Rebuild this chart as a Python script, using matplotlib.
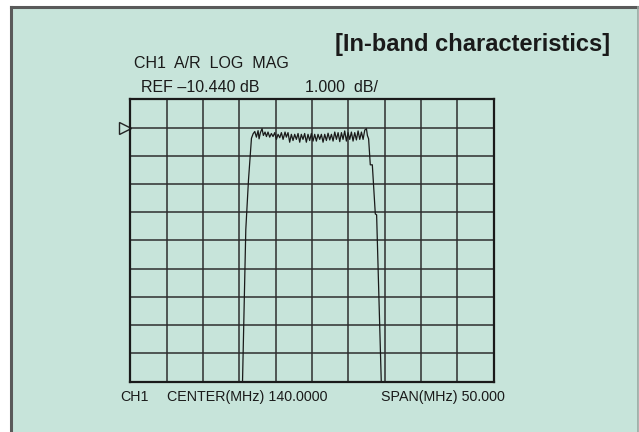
import numpy as np
import matplotlib
matplotlib.use("Agg")
import matplotlib.pyplot as plt
from matplotlib.patches import Rectangle
from matplotlib.lines import Line2D

# analyzer settings
center_mhz = 140.0
span_mhz = 50.0
ref_db = -10.440
db_per_div = 1.0

# trace (MHz, dB)
freq_mhz = [130.33, 130.44, 130.89, 131.26,
            131.67, 131.90, 132.13, 132.35, 132.58, 132.72, 132.90, 133.13, 133.31, 133.54,
            133.73, 133.95, 134.18, 134.41, 134.64, 134.87, 135.10, 135.33, 135.56, 135.79,
            136.02, 136.29, 136.47, 136.70, 136.93, 137.16, 137.39, 137.62, 137.85, 138.08,
            138.31, 138.53, 138.76, 138.99, 139.22, 139.45, 139.68, 139.91, 140.14, 140.37,
            140.60, 140.83, 141.06, 141.29, 141.52, 141.75, 141.98, 142.21, 142.44, 142.67,
            142.90, 143.13, 143.36, 143.59, 143.82, 144.05, 144.27, 144.50, 144.73, 144.96,
            145.19, 145.42, 145.65, 145.88, 146.11, 146.34, 146.57, 146.80, 147.03, 147.26,
            147.49, 147.62, 147.79,
            148.02, 148.30, 148.71, 148.89, 149.53, 149.60]
mag_db = [-20.50, -19.44, -14.06, -12.30,
          -10.82, -10.66, -10.58, -10.78, -10.55, -10.84, -10.62, -10.48, -10.72, -10.60,
          -10.76, -10.60, -10.78, -10.65, -10.76, -10.62, -10.86, -10.68, -10.80, -10.62,
          -10.86, -10.60, -10.78, -10.62, -10.96, -10.68, -10.90, -10.68, -10.86, -10.65,
          -10.96, -10.68, -10.86, -10.65, -10.96, -10.68, -10.90, -10.65, -10.92, -10.68,
          -10.92, -10.68, -10.86, -10.68, -10.96, -10.68, -10.90, -10.64, -10.88, -10.68,
          -10.92, -10.60, -10.86, -10.62, -10.94, -10.62, -10.86, -10.56, -10.92, -10.62,
          -10.86, -10.60, -10.92, -10.62, -10.88, -10.56, -10.86, -10.60, -10.86, -10.53,
          -10.48, -10.72, -10.84,
          -11.76, -11.76, -13.50, -13.53, -19.44, -20.50]

title = "[In-band characteristics]"
header1 = "CH1  A/R  LOG  MAG"
header2 = "REF \u201310.440 dB"
header3 = "1.000  dB/"
footer = ["CH1", "CENTER(MHz) 140.0000", "SPAN(MHz) 50.000"]

W, H = 639, 432
bg = "#c7e4da"
plt.rcParams["font.family"] = ["Liberation Sans", "DejaVu Sans"]

fig = plt.figure(figsize=(W / 100, H / 100), dpi=100)
fig.patch.set_facecolor("white")


def fx(px):
    return px / W


def fy(py):
    return 1 - py / H


# panel with darker top/left border
fig.patches.append(Rectangle((fx(11), 0), fx(638) - fx(11), fy(7), transform=fig.transFigure,
                             facecolor=bg, edgecolor="none", zorder=-5))
fig.lines.append(Line2D([fx(11), fx(638)], [fy(7), fy(7)], transform=fig.transFigure,
                        color="#5a5a5a", lw=2.2, zorder=-4))
fig.lines.append(Line2D([fx(11), fx(11)], [0, fy(7)], transform=fig.transFigure,
                        color="#5a5a5a", lw=2.2, zorder=-4))
fig.lines.append(Line2D([fx(638), fx(638)], [0, fy(7)], transform=fig.transFigure,
                        color="#9aa8a2", lw=1.2, zorder=-4))

ax = fig.add_axes([fx(130.3), fy(381.7), fx(493.7) - fx(130.3), fy(99.3) - fy(381.7)])
ax.set_facecolor(bg)
ax.set_zorder(1)

x0 = center_mhz - span_mhz / 2
x1 = center_mhz + span_mhz / 2
y_top = ref_db + db_per_div
y_bot = ref_db - 9 * db_per_div
ax.set_xlim(x0, x1)
ax.set_ylim(y_bot, y_top)

for xv in np.linspace(x0, x1, 11)[1:-1]:
    ax.axvline(xv, color="#2e2e2e", lw=1.1, zorder=1)
for yv in np.linspace(y_bot, y_top, 11)[1:-1]:
    ax.axhline(yv, color="#2e2e2e", lw=1.1, zorder=1)
for s in ax.spines.values():
    s.set_color("#1a1a1a")
    s.set_linewidth(1.6)
ax.set_xticks([])
ax.set_yticks([])

ax.plot(freq_mhz, mag_db, color="#1a1a1a", lw=0.9, zorder=3)

# reference position marker
ax.plot([-0.0154], [ref_db], transform=ax.get_yaxis_transform(), marker=">",
        markersize=9, markerfacecolor="none", markeredgecolor="#222222",
        markeredgewidth=1.0, clip_on=False, ls="none")

fig.text(fx(610), fy(44), title, ha="right", va="center", fontsize=17,
         fontweight="bold", color="#1a1a1a")
fig.text(fx(134.5), fy(63.5), header1, ha="left", va="center", fontsize=11.5, color="#1a1a1a")
fig.text(fx(140.6), fy(87), header2, ha="left", va="center", fontsize=11.5, color="#1a1a1a")
fig.text(fx(304.8), fy(87), header3, ha="left", va="center", fontsize=11.5, color="#1a1a1a")
for lbl, xp in zip(footer, [120.7, 166.7, 380.7]):
    fig.text(fx(xp), fy(396.7), lbl, ha="left", va="center", fontsize=10.3, color="#1a1a1a")

fig.savefig("out.png", dpi=100, facecolor=fig.get_facecolor())
